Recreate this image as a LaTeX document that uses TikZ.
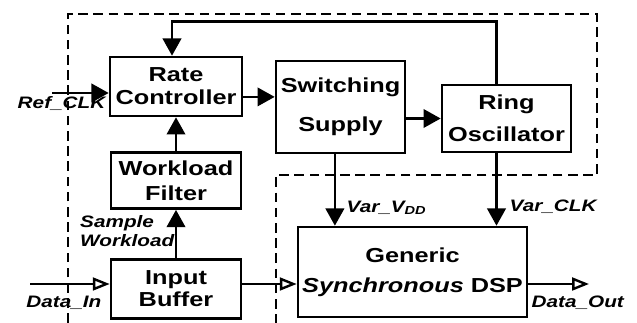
\documentclass[tikz,border=0pt]{standalone}
\usepackage{fontspec}
\setmainfont{Liberation Sans}[FakeStretch=1.25]
\usetikzlibrary{arrows.meta, positioning}

\tikzset{
  block/.style={
    draw, line width=0.65mm, align=center, inner sep=0pt,
    font=\fontsize{14.4}{16.4}\selectfont\bfseries
  },
  sig/.style={
    inner sep=1pt, align=left,
    font=\fontsize{11.8}{13}\selectfont\bfseries\itshape
  },
  arr/.style={-{Triangle[length=4.3mm,width=4.6mm]}, line width=0.65mm},
  darr/.style={-{Triangle[open,length=4.2mm,width=3.2mm]}, line width=0.6mm},
  region/.style={line width=0.4mm, dash pattern=on 2.4mm off 1.4mm}
}

\begin{document}
\begin{tikzpicture}[x=0.25mm, y=-0.25mm]
  \useasboundingbox (0,0) rectangle (637,323);
  % loop boundary
  \draw[region] (68,323) -- (68,14) -- (597,14) -- (597,175) -- (276,175) -- (276,323);

  % blocks
  \node[block, minimum width=33mm, minimum height=14.75mm] (rate) at (176,86.5) {Rate\\Controller};
  \node[block, minimum width=32.5mm, minimum height=14mm, below=8.5mm of rate] (filter) {Workload\\[1pt]Filter};
  \node[block, minimum width=32.5mm, minimum height=14.75mm, below=12mm of filter] (inbuf) {Input\\[-1pt]Buffer};
  \node[block, minimum width=32.25mm, minimum height=23mm] (supply) at (340.5,107) {Switching\\[11pt]Supply};
  \node[block, minimum width=32.25mm, minimum height=16.75mm] (ring) at (506.5,118.5) {Ring\\[6pt]Oscillator};
  \node[block, minimum width=57.25mm, minimum height=22.5mm] (dsp) at (412.5,272) {Generic\\[5pt]\textit{Synchronous} DSP};

  % free ends
  \coordinate (refin) at (52,93);
  \coordinate (datain) at (30,284);
  \coordinate (dataout) at (589,284);

  % control loop
  \draw[arr] (refin) -- (refin -| rate.west);
  \draw[arr] ([yshift=-2.6mm]rate.east) -- ([yshift=-2.6mm]rate.east -| supply.west);
  \draw[arr] (ring.west -| supply.east) -- (ring.west);
  \draw[arr] ([xshift=-2.5mm]ring.north) -- ++(0,-62) -| ([xshift=-1mm]rate.north);
  \draw[arr] (filter.north) -- (rate.south);
  \draw[arr] (inbuf.north) -- (filter.south);
  \draw[arr] ([xshift=-1.4mm]supply.south) -- ([xshift=-1.4mm]supply.south |- dsp.north);
  \draw[arr] ([xshift=-2.5mm]ring.south) -- ([xshift=-2.5mm]ring.south |- dsp.north);

  % data path
  \draw[darr] (datain) -- (datain -| inbuf.west);
  \draw[darr] (datain -| inbuf.east) -- (datain -| dsp.west);
  \draw[darr] (dataout -| dsp.east) -- (dataout);

  % signal names
  \node[sig, anchor=east] (refclk) at (107,104) {Ref\_CLK};
  \node[sig, anchor=east] (din) at (103,303) {Data\_In};
  \node[sig, anchor=east] (sample) at (176,231) {Sample\\Workload};
  \node[sig, anchor=west] (vdd) at (345,208) {Var\_V\textsubscript{DD}};
  \node[sig, anchor=west] (vclk) at (508,207) {Var\_CLK};
  \node[sig, anchor=west] (dout) at (530,303) {Data\_Out};
\end{tikzpicture}
\end{document}
